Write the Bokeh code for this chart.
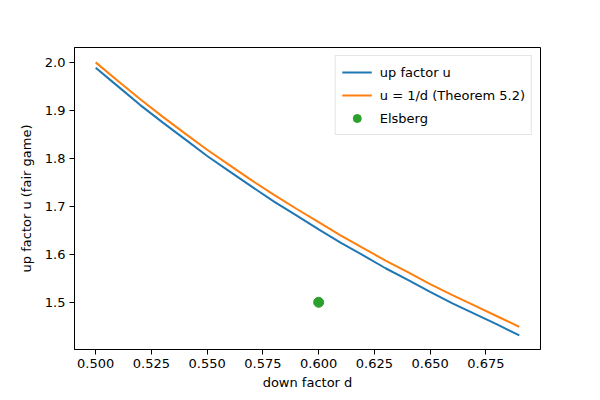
from bokeh.plotting import figure
from bokeh.embed import file_html
from bokeh.resources import INLINE
from bokeh.models import FixedTicker, PrintfTickFormatter, Range1d, Legend, LegendItem

# data
d_vals = [0.50, 0.51, 0.52, 0.53, 0.54, 0.55, 0.56, 0.57, 0.58, 0.59,
          0.60, 0.61, 0.62, 0.63, 0.64, 0.65, 0.66, 0.67, 0.68, 0.69]
u_fair = [1.989, 1.950, 1.911, 1.875, 1.840, 1.805, 1.773, 1.741, 1.710, 1.681,
          1.652, 1.624, 1.598, 1.571, 1.547, 1.522, 1.498, 1.476, 1.454, 1.431]
u_theorem = [2.000, 1.961, 1.923, 1.887, 1.852, 1.818, 1.786, 1.754, 1.724, 1.695,
             1.667, 1.639, 1.613, 1.587, 1.563, 1.538, 1.515, 1.493, 1.471, 1.449]
elsberg_d = [0.60]
elsberg_u = [1.50]
x_ticks = [0.500, 0.525, 0.550, 0.575, 0.600, 0.625, 0.650, 0.675]
y_ticks = [1.5, 1.6, 1.7, 1.8, 1.9, 2.0]

FONT = "DejaVu Sans"

p = figure(width=592, height=392, output_backend="svg", toolbar_location=None,
           x_range=Range1d(0.4905, 0.6995), y_range=Range1d(1.4017, 2.031))
p.min_border_left = 74
p.min_border_right = 52
p.min_border_top = 47
p.min_border_bottom = 42
p.background_fill_color = "white"
p.border_fill_color = "white"
p.outline_line_color = "black"
p.outline_line_width = 1
p.xgrid.visible = False
p.ygrid.visible = False

for ax in (p.xaxis[0], p.yaxis[0]):
    ax.axis_line_color = "black"
    ax.major_tick_line_color = "black"
    ax.major_tick_out = 5
    ax.major_tick_in = 0
    ax.minor_tick_line_color = None
    ax.major_label_text_font = FONT
    ax.major_label_text_font_size = "13px"
    ax.major_label_text_color = "black"
    ax.axis_label_text_font = FONT
    ax.axis_label_text_font_size = "13px"
    ax.axis_label_text_font_style = "normal"
    ax.axis_label_text_color = "black"

p.xaxis.ticker = FixedTicker(ticks=x_ticks)
p.xaxis.formatter = PrintfTickFormatter(format="%.3f")
p.yaxis.ticker = FixedTicker(ticks=y_ticks)
p.yaxis.formatter = PrintfTickFormatter(format="%.1f")
p.xaxis.axis_label = "down factor d"
p.yaxis.axis_label = "up factor u (fair game)"
p.xaxis.axis_label_standoff = 4
p.yaxis.axis_label_standoff = 8
p.xaxis.major_label_standoff = 4
p.yaxis.major_label_standoff = 4

r1 = p.line(d_vals, u_fair, line_color="#1f77b4", line_width=2)
r2 = p.line(d_vals, u_theorem, line_color="#ff7f0e", line_width=2)
r3 = p.scatter(elsberg_d, elsberg_u, size=10, fill_color="#2ca02c", line_color="#2ca02c")

legend = Legend(items=[
    LegendItem(label="up factor u", renderers=[r1]),
    LegendItem(label="u = 1/d (Theorem 5.2)", renderers=[r2]),
    LegendItem(label="Elsberg", renderers=[r3]),
], location="top_right")
legend.label_text_font = FONT
legend.label_text_font_size = "13px"
legend.label_text_color = "black"
legend.border_line_color = "#cccccc"
legend.border_line_width = 1
legend.background_fill_alpha = 0.8
legend.margin = 8
legend.padding = 6
legend.spacing = 3
legend.glyph_width = 30
legend.label_standoff = 8
p.add_layout(legend)

open("out.html", "w").write(file_html(p, INLINE))
